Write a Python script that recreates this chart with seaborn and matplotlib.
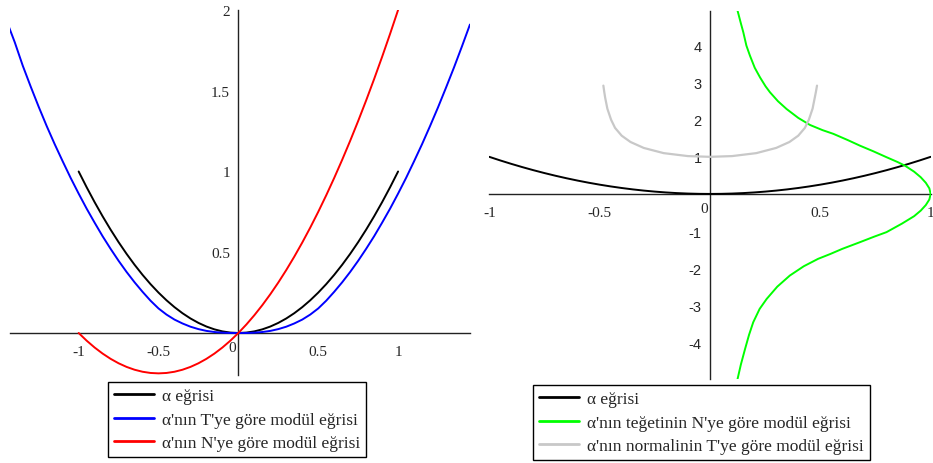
import numpy as np
import pandas as pd
import matplotlib
matplotlib.use('Agg')
import matplotlib.pyplot as plt
import seaborn as sns
from matplotlib.ticker import MultipleLocator

# alpha curve and its module curves
x_curve = [-1.0, -0.95, -0.9, -0.85, -0.8, -0.75, -0.7, -0.65, -0.6, -0.55, -0.5,
           -0.45, -0.4, -0.35, -0.3, -0.25, -0.2, -0.15, -0.1, -0.05, 0.0,
           0.05, 0.1, 0.15, 0.2, 0.25, 0.3, 0.35, 0.4, 0.45, 0.5,
           0.55, 0.6, 0.65, 0.7, 0.75, 0.8, 0.85, 0.9, 0.95, 1.0]
y_alpha = [1.0, 0.9025, 0.81, 0.7225, 0.64, 0.5625, 0.49, 0.4225, 0.36, 0.3025, 0.25,
           0.2025, 0.16, 0.1225, 0.09, 0.0625, 0.04, 0.0225, 0.01, 0.0025, 0.0,
           0.0025, 0.01, 0.0225, 0.04, 0.0625, 0.09, 0.1225, 0.16, 0.2025, 0.25,
           0.3025, 0.36, 0.4225, 0.49, 0.5625, 0.64, 0.7225, 0.81, 0.9025, 1.0]
y_red = [0.0, -0.0475, -0.09, -0.1275, -0.16, -0.1875, -0.21, -0.2275, -0.24, -0.2475, -0.25,
         -0.2475, -0.24, -0.2275, -0.21, -0.1875, -0.16, -0.1275, -0.09, -0.0475, 0.0,
         0.0525, 0.11, 0.1725, 0.24, 0.3125, 0.39, 0.4725, 0.56, 0.6525, 0.75,
         0.8525, 0.96, 1.0725, 1.19, 1.3125, 1.44, 1.5725, 1.71, 1.8525, 2.0]

x_blue = [-1.45, -1.4, -1.35, -1.3, -1.25, -1.2, -1.15, -1.1, -1.05, -1.0,
          -0.95, -0.9, -0.85, -0.8, -0.75, -0.7, -0.65, -0.6, -0.55, -0.5,
          -0.45, -0.4, -0.35, -0.3, -0.25, -0.2, -0.15, -0.1, -0.05, 0.0,
          0.05, 0.1, 0.15, 0.2, 0.25, 0.3, 0.35, 0.4, 0.45, 0.5,
          0.55, 0.6, 0.65, 0.7, 0.75, 0.8, 0.85, 0.9, 0.95, 1.0,
          1.05, 1.1, 1.15, 1.2, 1.25, 1.3, 1.35, 1.4, 1.45]
y_blue = [1.93, 1.80, 1.655, 1.525, 1.40, 1.281, 1.169, 1.063, 0.96, 0.863,
          0.77, 0.683, 0.599, 0.521, 0.447, 0.378, 0.314, 0.255, 0.2, 0.152,
          0.114, 0.083, 0.059, 0.039, 0.024, 0.013, 0.006, 0.002, 0.0, 0.0,
          0.0, 0.002, 0.006, 0.013, 0.024, 0.039, 0.059, 0.083, 0.114, 0.152,
          0.2, 0.255, 0.314, 0.378, 0.447, 0.521, 0.599, 0.683, 0.77, 0.863,
          0.96, 1.063, 1.169, 1.281, 1.397, 1.519, 1.644, 1.775, 1.91]

# right chart
y_green = [4.94, 4.6, 4.36, 4.0, 3.73, 3.4, 3.14, 2.9, 2.74, 2.5, 2.29, 2.05, 1.86, 1.72,
           1.62, 1.45, 1.30, 1.15, 0.99, 0.86, 0.76, 0.6, 0.45, 0.3, 0.15, 0.0,
           -0.15, -0.3, -0.45, -0.6, -0.8, -1.03, -1.15, -1.30, -1.48, -1.62, -1.75,
           -1.95, -2.20, -2.5, -2.83, -3.1, -3.46, -3.8, -4.18, -4.6, -4.99]
x_green = [0.125, 0.14, 0.151, 0.165, 0.181, 0.203, 0.227, 0.252, 0.272, 0.308, 0.347, 0.40, 0.453, 0.51,
           0.559, 0.625, 0.68, 0.74, 0.80, 0.85, 0.884, 0.925, 0.955, 0.978, 0.994, 1.0,
           0.994, 0.978, 0.955, 0.925, 0.87, 0.80, 0.745, 0.68, 0.60, 0.545, 0.49,
           0.425, 0.362, 0.305, 0.257, 0.225, 0.196, 0.177, 0.159, 0.14, 0.125]

x_gray = [-0.483, -0.479, -0.475, -0.465, -0.448, -0.43, -0.40, -0.36, -0.30, -0.21, -0.10, 0.0,
          0.10, 0.21, 0.30, 0.36, 0.40, 0.43, 0.448, 0.465, 0.475, 0.48, 0.485]
y_gray = [2.92, 2.75, 2.6, 2.3, 2.0, 1.78, 1.57, 1.40, 1.24, 1.10, 1.02, 1.0,
          1.02, 1.10, 1.24, 1.40, 1.57, 1.78, 2.0, 2.3, 2.6, 2.75, 2.92]

left_labels = ["\u03b1 e\u011frisi",
               "\u03b1'n\u0131n T'ye g\u00f6re mod\u00fcl e\u011frisi",
               "\u03b1'n\u0131n N'ye g\u00f6re mod\u00fcl e\u011frisi"]
right_labels = ["\u03b1 e\u011frisi",
                "\u03b1'n\u0131n te\u011fetinin N'ye g\u00f6re mod\u00fcl e\u011frisi",
                "\u03b1'n\u0131n normalinin T'ye g\u00f6re mod\u00fcl e\u011frisi"]

sns.set_style('white')
plt.rcParams['font.family'] = ['Liberation Serif', 'DejaVu Serif']

fig = plt.figure(figsize=(9.33, 4.64), dpi=100)
ax1 = fig.add_axes([0.0107, 0.1897, 0.4930, 0.7866])
ax2 = fig.add_axes([0.5244, 0.1810, 0.4731, 0.7938])

lw = 1.4

# left chart
sns.lineplot(x=x_curve, y=y_alpha, sort=False, estimator=None, color='black', lw=lw,
             label=left_labels[0], ax=ax1, legend=False)
sns.lineplot(x=x_blue, y=y_blue, sort=False, estimator=None, color='#0000ff', lw=lw,
             label=left_labels[1], ax=ax1, legend=False)
sns.lineplot(x=x_curve, y=y_red, sort=False, estimator=None, color='#ff0000', lw=lw,
             label=left_labels[2], ax=ax1, legend=False)
ax1.set_xlim(-1.43, 1.45)
ax1.set_ylim(-0.26, 2.0)
ax1.set_xticks([-1, -0.5, 0.5, 1])
ax1.set_xticklabels(['-1', '-0.5', '0.5', '1'])
ax1.set_yticks([0.5, 1, 1.5, 2])
ax1.set_yticklabels(['0.5', '1', '1.5', '2'])
ax1.xaxis.set_minor_locator(MultipleLocator(0.1))
ax1.yaxis.set_minor_locator(MultipleLocator(0.1))

# right chart
sns.lineplot(x=x_curve, y=y_alpha, sort=False, estimator=None, color='black', lw=lw,
             label=right_labels[0], ax=ax2, legend=False)
sns.lineplot(x=x_green, y=y_green, sort=False, estimator=None, color='#00ff00', lw=lw,
             label=right_labels[1], ax=ax2, legend=False)
sns.lineplot(x=x_gray, y=y_gray, sort=False, estimator=None, color='#c8c8c8', lw=lw + 0.2,
             label=right_labels[2], ax=ax2, legend=False)
ax2.set_xlim(-1.0, 1.0)
ax2.set_ylim(-4.99, 4.94)
ax2.set_xticks([-1, -0.5, 0.5, 1])
ax2.set_xticklabels(['-1', '-0.5', '0.5', '1'])
ax2.set_yticks([-4, -3, -2, -1, 1, 2, 3, 4])
ax2.set_yticklabels(['-4', '-3', '-2', '-1', '1', '2', '3', '4'])
ax2.xaxis.set_minor_locator(MultipleLocator(0.1))
ax2.yaxis.set_minor_locator(MultipleLocator(0.5))

for ax in (ax1, ax2):
    ax.set_facecolor('white')
    ax.patch.set_alpha(0)
    for side in ('top', 'right'):
        ax.spines[side].set_visible(False)
    ax.spines['left'].set_position(('data', 0))
    ax.spines['bottom'].set_position(('data', 0))
    for side in ('left', 'bottom'):
        ax.spines[side].set_color('#222222')
        ax.spines[side].set_linewidth(1.0)
        ax.spines[side].set_zorder(0.5)
    ax.tick_params(axis='x', which='major', direction='out', length=3, width=0.8,
                   color='#777777', labelsize=11, pad=6)
    ax.tick_params(axis='x', which='minor', direction='out', length=2, width=0.6, color='#999999')
    ax.tick_params(axis='y', which='major', direction='in', length=3, width=0.8,
                   color='#777777', labelsize=11, pad=6)
    ax.tick_params(axis='y', which='minor', direction='in', length=2, width=0.6, color='#999999')
    ax.annotate('0', xy=(0, 0), xytext=(-1.5, -6), textcoords='offset points',
                ha='right', va='top', fontsize=11)

# right chart y labels are set in a sans face
for t in ax2.get_yticklabels():
    t.set_fontfamily(['Liberation Sans', 'DejaVu Sans'])
    t.set_fontsize(10.5)

leg_kw = dict(loc='upper left', fontsize=12.5, frameon=True, fancybox=False, framealpha=1,
              edgecolor='black', borderpad=0.35, labelspacing=0.42, handlelength=2.3,
              handletextpad=0.45, borderaxespad=0, bbox_transform=fig.transFigure)

h1, l1 = ax1.get_legend_handles_labels()
lg1 = ax1.legend(h1, l1, bbox_to_anchor=(0.1158, 0.1746), **leg_kw)
h2, l2 = ax2.get_legend_handles_labels()
lg2 = ax2.legend(h2, l2, bbox_to_anchor=(0.5713, 0.168), **leg_kw)
for lg in (lg1, lg2):
    lg.get_frame().set_linewidth(1.0)
    for line in lg.get_lines():
        line.set_linewidth(2.0)

fig.savefig('out.png', dpi=100)
